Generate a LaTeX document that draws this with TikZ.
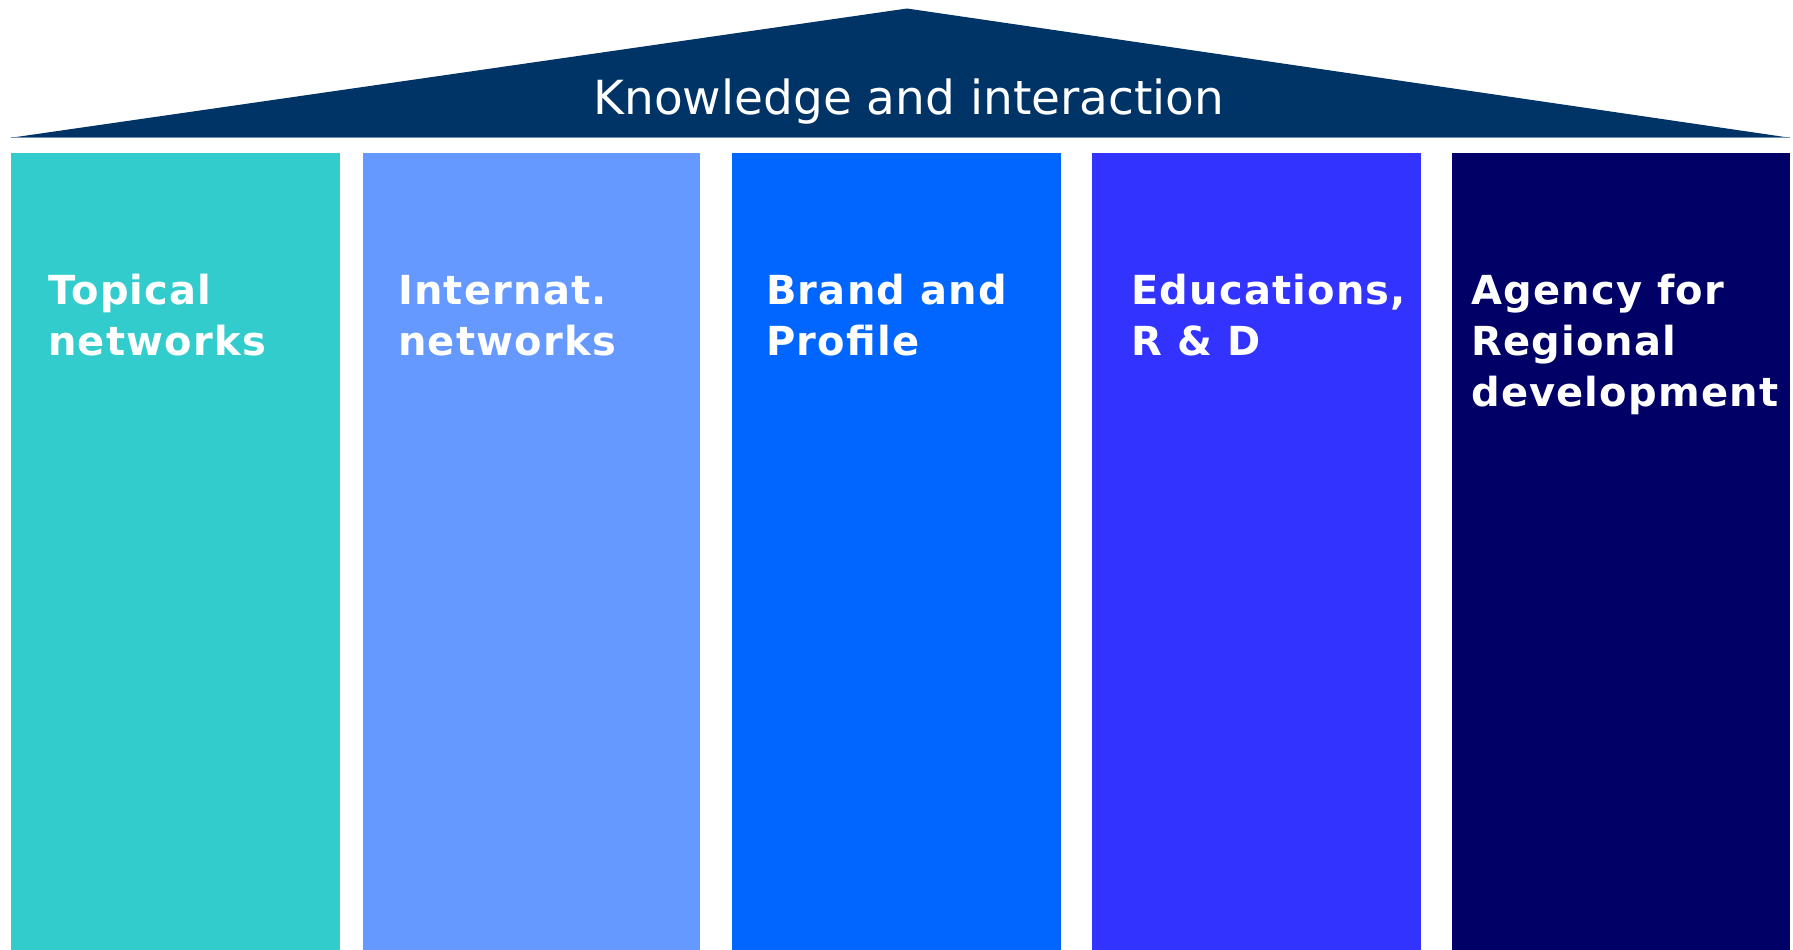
\documentclass[tikz,border=0pt]{standalone}
\usepackage{fontspec}
\setmainfont{DejaVu Sans}
\newfontfamily\pillarfont{DejaVu Sans}[LetterSpace=3]
\definecolor{roofblue}{HTML}{003366}
\definecolor{roofedge}{HTML}{6F8FB0}
\definecolor{pillarA}{HTML}{33CCCC}
\definecolor{pillarB}{HTML}{6699FF}
\definecolor{pillarC}{HTML}{0066FF}
\definecolor{pillarD}{HTML}{3333FF}
\definecolor{pillarE}{HTML}{000066}
\begin{document}
\begin{tikzpicture}[x=1pt,y=-1pt,
  lbl/.style={text=white, anchor=base west, inner sep=0pt, align=left,
    font=\pillarfont\bfseries\fontsize{40}{51}\selectfont}]
\useasboundingbox (0,0) rectangle (1793,950);
\fill [roofblue] (11.4,137.7) node (r1) {} -- (907,8.5) node (r2) {} -- (1789.6,137.7) node (r3) {} -- cycle;
\draw [roofedge, line width=1.2pt] (r1.center) -- (r3.center);
\node (t1) [anchor=base, inner sep=0pt, text=white, font=\fontsize{47}{56}\selectfont] at (909,114.5) {Knowledge and interaction};
\fill [pillarA] (11.4,153) rectangle (340,950);
\fill [pillarB] (362.5,153) rectangle (700,950);
\fill [pillarC] (731.7,153) rectangle (1061.2,950);
\fill [pillarD] (1092,153) rectangle (1421.4,950);
\fill [pillarE] (1452.2,153) rectangle (1789.6,950);
\node (p1) [lbl] at (48,355) {Topical\\networks};
\node (p2) [lbl] at (398,355) {Internat.\\networks};
\node (p3) [lbl] at (766,355) {Brand and\\Profile};
\node (p4) [lbl] at (1131,355) {Educations,\\R \& D};
\node (p5) [lbl] at (1471,406) {Agency for\\Regional\\development};
\end{tikzpicture}
\end{document}
